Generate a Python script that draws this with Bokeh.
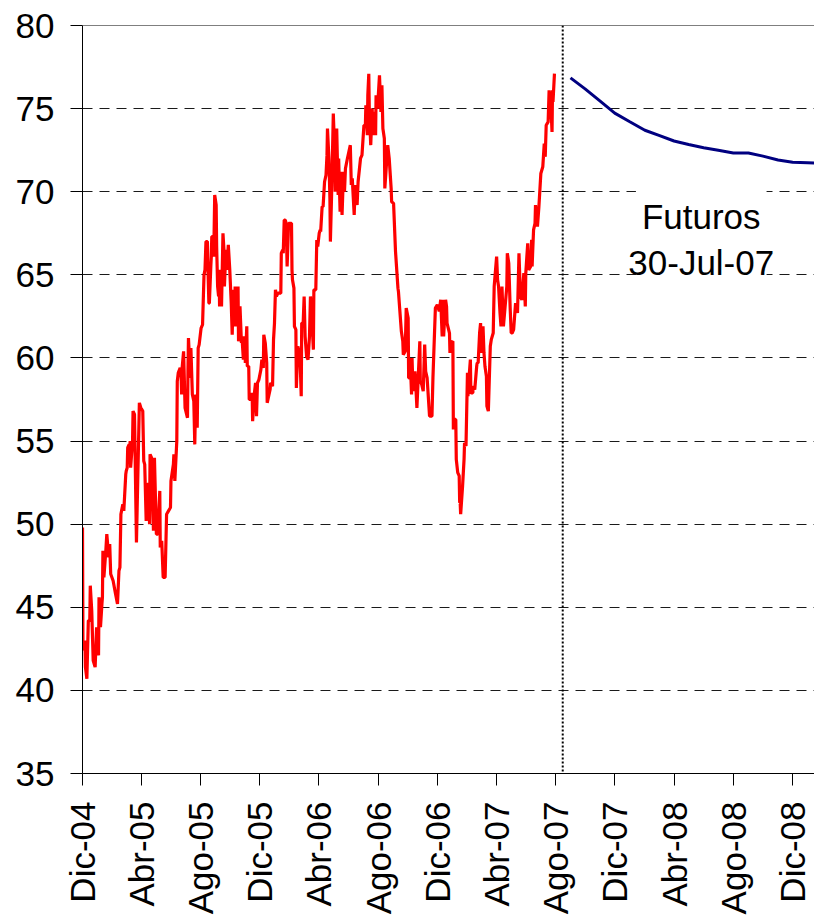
import math
import pandas as pd
from bokeh.plotting import figure
from bokeh.models import FixedTicker, CustomJSTickFormatter, Span, Label, Range1d
from bokeh.embed import file_html
from bokeh.resources import INLINE

# ---- data ----
spot_dates = [
    "2004-12-01", "2004-12-02", "2004-12-06", "2004-12-07", "2004-12-10", "2004-12-13", "2004-12-16",
    "2004-12-17", "2004-12-20", "2004-12-23", "2004-12-27", "2004-12-28", "2004-12-30",
    "2005-01-03", "2005-01-04", "2005-01-07", "2005-01-10", "2005-01-11", "2005-01-12", "2005-01-14",
    "2005-01-18", "2005-01-20", "2005-01-24", "2005-01-26", "2005-01-28", "2005-02-02", "2005-02-07",
    "2005-02-11", "2005-02-14", "2005-02-16", "2005-02-18", "2005-02-22", "2005-02-24", "2005-02-28",
    "2005-03-01", "2005-03-03", "2005-03-04", "2005-03-07", "2005-03-08", "2005-03-09", "2005-03-10",
    "2005-03-14", "2005-03-15", "2005-03-18", "2005-03-22", "2005-03-28", "2005-03-31", "2005-04-04",
    "2005-04-06", "2005-04-08", "2005-04-11", "2005-04-13", "2005-04-15", "2005-04-18", "2005-04-19",
    "2005-04-22", "2005-04-25", "2005-04-26", "2005-04-28", "2005-05-02", "2005-05-05", "2005-05-09",
    "2005-05-10", "2005-05-13", "2005-05-16", "2005-05-20", "2005-05-23", "2005-05-27", "2005-05-31",
    "2005-06-01", "2005-06-06", "2005-06-07", "2005-06-09", "2005-06-13", "2005-06-14", "2005-06-16",
    "2005-06-20", "2005-06-22", "2005-06-23", "2005-06-24", "2005-06-27", "2005-06-30", "2005-07-05",
    "2005-07-06", "2005-07-07", "2005-07-11", "2005-07-12", "2005-07-15", "2005-07-18", "2005-07-20",
    "2005-07-22", "2005-07-25", "2005-07-27", "2005-07-29", "2005-08-02", "2005-08-05", "2005-08-08",
    "2005-08-10", "2005-08-12", "2005-08-15", "2005-08-16", "2005-08-18", "2005-08-19", "2005-08-22",
    "2005-08-23", "2005-08-24", "2005-08-26", "2005-08-28", "2005-08-30", "2005-09-02", "2005-09-03",
    "2005-09-05", "2005-09-07", "2005-09-08", "2005-09-09", "2005-09-12", "2005-09-13", "2005-09-16",
    "2005-09-18", "2005-09-19", "2005-09-22", "2005-09-24", "2005-09-27", "2005-09-30", "2005-10-03",
    "2005-10-05", "2005-10-07", "2005-10-10", "2005-10-11", "2005-10-14", "2005-10-17", "2005-10-18",
    "2005-10-21", "2005-10-24", "2005-10-25", "2005-10-28", "2005-10-31", "2005-11-01", "2005-11-04",
    "2005-11-05", "2005-11-08", "2005-11-09", "2005-11-12", "2005-11-15", "2005-11-16", "2005-11-19",
    "2005-11-22", "2005-11-24", "2005-11-26", "2005-11-29", "2005-12-03", "2005-12-05", "2005-12-08",
    "2005-12-09", "2005-12-12", "2005-12-15", "2005-12-16", "2005-12-19", "2005-12-22", "2005-12-23",
    "2005-12-27", "2005-12-29", "2005-12-31",
    "2006-01-02", "2006-01-04", "2006-01-07", "2006-01-13", "2006-01-14", "2006-01-17", "2006-01-18",
    "2006-01-20", "2006-01-22", "2006-01-24", "2006-01-26", "2006-01-29", "2006-02-01", "2006-02-04",
    "2006-02-05", "2006-02-06", "2006-02-09", "2006-02-10", "2006-02-13", "2006-02-14", "2006-02-17",
    "2006-02-20", "2006-02-21", "2006-02-24", "2006-02-25", "2006-02-28", "2006-03-02", "2006-03-04",
    "2006-03-07", "2006-03-10", "2006-03-13", "2006-03-15", "2006-03-18", "2006-03-21", "2006-03-22",
    "2006-03-26", "2006-03-28", "2006-03-30", "2006-04-02", "2006-04-04", "2006-04-05", "2006-04-08",
    "2006-04-10", "2006-04-13", "2006-04-16", "2006-04-18", "2006-04-19", "2006-04-22", "2006-04-24",
    "2006-04-25", "2006-04-28", "2006-05-01", "2006-05-04", "2006-05-05", "2006-05-08", "2006-05-11",
    "2006-05-12", "2006-05-15", "2006-05-16", "2006-05-19", "2006-05-22", "2006-05-24", "2006-05-26",
    "2006-05-30", "2006-06-02", "2006-06-05", "2006-06-07", "2006-06-09", "2006-06-13", "2006-06-15",
    "2006-06-19", "2006-06-21", "2006-06-26", "2006-06-29", "2006-07-03", "2006-07-06", "2006-07-07",
    "2006-07-10", "2006-07-11", "2006-07-13", "2006-07-14", "2006-07-17", "2006-07-20", "2006-07-21",
    "2006-07-24", "2006-07-27", "2006-07-28", "2006-07-31", "2006-08-04", "2006-08-07", "2006-08-09",
    "2006-08-11", "2006-08-14", "2006-08-15", "2006-08-21", "2006-08-24", "2006-08-28", "2006-08-29",
    "2006-09-02", "2006-09-06", "2006-09-11", "2006-09-12", "2006-09-15", "2006-09-18", "2006-09-21",
    "2006-09-22", "2006-09-26", "2006-09-28", "2006-10-02", "2006-10-03", "2006-10-05", "2006-10-06",
    "2006-10-09", "2006-10-10", "2006-10-12", "2006-10-16", "2006-10-18", "2006-10-20", "2006-10-23",
    "2006-10-26", "2006-10-27", "2006-10-30", "2006-11-02", "2006-11-05", "2006-11-07", "2006-11-10",
    "2006-11-15", "2006-11-20", "2006-11-22", "2006-11-27", "2006-12-01", "2006-12-05", "2006-12-08",
    "2006-12-11", "2006-12-12", "2006-12-14", "2006-12-18", "2006-12-20", "2006-12-21", "2006-12-26",
    "2006-12-27", "2006-12-29",
    "2007-01-02", "2007-01-03", "2007-01-05", "2007-01-08", "2007-01-09", "2007-01-12", "2007-01-15",
    "2007-01-16", "2007-01-17", "2007-01-18", "2007-01-22", "2007-01-25", "2007-01-26", "2007-01-29",
    "2007-02-01", "2007-02-02", "2007-02-05", "2007-02-07", "2007-02-08", "2007-02-12", "2007-02-13",
    "2007-02-16", "2007-02-20", "2007-02-21", "2007-02-23", "2007-02-26", "2007-02-28", "2007-03-01",
    "2007-03-05", "2007-03-07", "2007-03-09", "2007-03-12", "2007-03-13", "2007-03-15", "2007-03-16",
    "2007-03-20", "2007-03-22", "2007-03-26", "2007-03-28", "2007-04-02", "2007-04-04", "2007-04-06",
    "2007-04-09", "2007-04-11", "2007-04-13", "2007-04-16", "2007-04-23", "2007-04-24", "2007-04-27",
    "2007-04-30", "2007-05-02", "2007-05-04", "2007-05-07", "2007-05-10", "2007-05-11", "2007-05-15",
    "2007-05-18", "2007-05-21", "2007-05-24", "2007-05-28", "2007-05-31", "2007-06-01", "2007-06-05",
    "2007-06-07", "2007-06-11", "2007-06-13", "2007-06-14", "2007-06-17", "2007-06-20", "2007-06-21",
    "2007-06-25", "2007-06-28", "2007-07-02", "2007-07-06", "2007-07-09", "2007-07-11", "2007-07-13",
    "2007-07-17", "2007-07-19", "2007-07-23", "2007-07-25", "2007-07-26", "2007-07-27", "2007-07-30",
]
spot_prices = [
    49.8, 42.4, 43.0, 41.4, 40.7, 44.2, 44.2, 46.3, 44.8, 41.8, 41.4, 42.2, 43.8,
    42.1, 45.6, 43.8, 45.2, 45.6, 48.4, 46.8, 48.4, 49.4, 48.0, 48.8, 47.0, 46.6, 45.8,
    45.2, 47.2, 47.4, 50.6, 51.2, 50.8, 53.0, 53.2, 53.4, 54.6, 54.8, 54.2, 55.0, 53.4,
    55.0, 56.8, 56.6, 48.9, 57.3, 57.0, 56.8, 53.8, 53.6, 50.2, 52.4, 52.4, 50.0, 54.2,
    54.0, 50.6, 49.6, 54.0, 49.4, 49.4, 52.0, 48.6, 49.0, 46.8, 46.8, 50.6, 50.8, 51.0,
    52.6, 53.6, 54.2, 52.6, 55.0, 58.6, 59.1, 59.4, 58.8, 57.8, 59.4, 60.4, 57.0, 56.4,
    59.2, 61.2, 58.8, 60.6, 57.8, 57.4, 54.8, 57.8, 55.8, 60.6, 60.8, 61.8, 62.0, 65.0,
    65.3, 67.0, 67.0, 65.5, 63.3, 63.3, 65.5, 66.1, 67.3, 67.3, 66.1, 69.8, 69.2, 66.7,
    64.3, 63.7, 65.3, 63.1, 65.3, 63.1, 67.5, 66.5, 64.3, 66.5, 65.3, 66.8, 65.3, 63.3,
    61.4, 64.1, 61.9, 64.3, 61.9, 64.3, 61.0, 63.1, 60.9, 61.3, 59.9, 61.3, 59.7, 61.9,
    59.5, 59.5, 57.5, 57.5, 57.9, 56.2, 57.7, 58.5, 56.5, 58.5, 58.7, 59.3, 59.9, 59.4,
    61.4, 60.9, 59.7, 57.3, 57.7, 58.1, 58.5, 58.3, 61.1, 62.1,
    64.1, 63.7, 63.9, 63.9, 66.3, 66.5, 66.3, 68.3, 68.3, 68.1, 65.5, 68.1, 68.1, 68.1,
    65.3, 64.7, 64.2, 61.9, 61.7, 58.2, 60.7, 60.3, 60.6, 57.7, 62.1, 62.1, 63.7, 61.3,
    60.1, 59.9, 61.3, 63.7, 62.3, 60.5, 64.1, 64.1, 67.1, 66.7, 67.5, 67.7, 67.6, 69.1,
    69.1, 70.6, 71.0, 72.2, 73.8, 72.0, 69.6, 67.0, 70.4, 74.7, 72.2, 70.0, 73.8, 69.8,
    72.0, 68.8, 71.2, 68.6, 71.2, 70.0, 71.4, 72.0, 72.4, 72.8, 70.4, 70.8, 68.6, 70.4,
    69.2, 70.6, 72.0, 72.2, 74.0, 74.0, 75.2, 73.4, 75.8, 77.1, 75.0, 72.8, 75.0, 73.4,
    74.8, 73.4, 75.8, 75.0, 77.0, 74.8, 76.4, 73.8, 73.2, 70.2, 72.8, 72.0, 70.2, 69.4,
    69.3, 66.4, 64.2, 64.0, 62.8, 61.6, 61.0, 60.2, 60.4, 63.0, 62.4, 58.8, 58.8, 60.0,
    57.8, 60.0, 58.0, 59.2, 58.2, 57.0, 59.0, 61.0, 58.6, 58.4, 58.0, 60.8, 59.2, 58.8,
    56.5, 56.5, 58.8, 63.0, 63.2, 62.8, 63.5, 61.3, 63.5, 61.3, 63.5, 63.1, 62.1, 61.5,
    60.3, 60.9,
    61.0, 55.7, 56.3, 56.3, 53.9, 53.1, 52.9, 51.3, 51.3, 50.6, 52.3, 53.9, 54.9, 54.7,
    59.1, 57.7, 59.1, 59.9, 57.9, 57.9, 58.3, 58.1, 59.5, 59.7, 59.7, 61.5, 62.1, 60.3,
    61.9, 60.3, 59.5, 58.9, 57.1, 56.9, 56.8, 60.7, 61.1, 61.5, 64.3, 66.1, 64.7, 64.3,
    62.7, 61.9, 64.3, 61.9, 64.3, 66.3, 65.7, 62.9, 61.5, 61.5, 61.7, 62.9, 63.3, 62.7,
    66.3, 63.7, 63.5, 65.1, 63.1, 65.1, 66.9, 65.3, 65.5, 67.1, 65.5, 67.7, 68.1, 69.2,
    67.9, 69.1, 71.1, 71.5, 72.9, 72.1, 74.0, 74.2, 76.1, 75.0, 73.6, 76.1, 75.4, 77.1,
]

futures_dates = [
    "2007-09-01", "2007-10-01", "2007-11-01", "2007-12-01", "2008-01-01", "2008-02-01",
    "2008-03-01", "2008-04-01", "2008-05-01", "2008-06-01", "2008-07-01", "2008-08-01",
    "2008-09-01", "2008-10-01", "2008-11-01", "2008-12-01", "2009-01-01", "2009-02-01",
]
futures_prices = [
    76.85, 76.19, 75.45, 74.73, 74.21, 73.70, 73.39, 73.05, 72.84, 72.64, 72.49, 72.33,
    72.33, 72.14, 71.91, 71.77, 71.74, 71.70,
]

tick_dates = [
    "2004-12-01", "2005-04-01", "2005-08-01", "2005-12-01", "2006-04-01", "2006-08-01",
    "2006-12-01", "2007-04-01", "2007-08-01", "2007-12-01", "2008-04-01", "2008-08-01",
    "2008-12-01",
]
tick_labels = [
    "Dic-04", "Abr-05", "Ago-05", "Dic-05", "Abr-06", "Ago-06", "Dic-06", "Abr-07",
    "Ago-07", "Dic-07", "Abr-08", "Ago-08", "Dic-08",
]
y_ticks = [35, 40, 45, 50, 55, 60, 65, 70, 75, 80]
grid_values = [40, 45, 50, 55, 60, 65, 70, 75]

x_start, x_end = "2004-12-01", "2009-01-15"
y_start, y_end = 35, 80
cutoff_date = "2007-08-16"
note_x = "2008-05-27"
note_line1, note_line1_y = "Futuros", 68.5
note_line2, note_line2_y = "30-Jul-07", 65.75


def to_ms(values):
    s = pd.to_datetime(pd.Series(values))
    return [float(v) for v in (s - pd.Timestamp("1970-01-01")) // pd.Timedelta(milliseconds=1)]


FONT = "Liberation Sans"

p = figure(
    frame_width=732, frame_height=748,
    x_axis_type="datetime",
    x_range=Range1d(to_ms([x_start])[0], to_ms([x_end])[0]),
    y_range=Range1d(y_start, y_end),
    output_backend="svg", toolbar_location=None,
    min_border_left=82, min_border_top=25, min_border_right=0, min_border_bottom=0,
)
p.outline_line_color = None
p.background_fill_color = "white"
p.border_fill_color = "white"

# grid
p.xgrid.visible = False
p.ygrid.ticker = FixedTicker(ticks=grid_values)
p.ygrid.grid_line_color = "#1a1a1a"
p.ygrid.grid_line_dash = "10 7"
p.ygrid.grid_line_width = 1

# top border line
p.add_layout(Span(location=y_end, dimension="width", line_color="black", line_width=1))

# y axis
p.yaxis.ticker = FixedTicker(ticks=y_ticks)
p.yaxis.major_tick_out = 12
p.yaxis.major_tick_in = 0
p.yaxis.minor_tick_line_color = None
p.yaxis.major_label_text_font = FONT
p.yaxis.major_label_text_font_size = "35px"
p.yaxis.major_label_text_color = "black"
p.yaxis.major_label_standoff = 16
p.yaxis.axis_line_color = "black"
p.yaxis.major_tick_line_color = "black"

# x axis
tick_ms = to_ms(tick_dates)
p.xaxis.ticker = FixedTicker(ticks=tick_ms)
p.xaxis.formatter = CustomJSTickFormatter(
    args=dict(tick_values=tick_ms, tick_names=tick_labels),
    code="""
    for (let i = 0; i < tick_values.length; i++) {
        if (Math.abs(tick_values[i] - tick) < 1000) { return tick_names[i]; }
    }
    return "";
    """,
)
p.xaxis.major_label_orientation = math.pi / 2
p.xaxis.major_tick_out = 12
p.xaxis.major_tick_in = 0
p.xaxis.minor_tick_line_color = None
p.xaxis.major_label_text_font = FONT
p.xaxis.major_label_text_font_size = "35px"
p.xaxis.major_label_text_color = "black"
p.xaxis.major_label_standoff = 16
p.xaxis.axis_line_color = "black"
p.xaxis.major_tick_line_color = "black"

# annotation (drawn beneath the data lines, above the grid)
nx = to_ms([note_x])[0]
p.add_layout(Label(x=nx, y=note_line1_y, text=note_line1, text_align="center",
                   text_baseline="alphabetic", text_font=FONT, text_font_size="35px",
                   text_color="black", background_fill_color="white",
                   padding=(6, 40), level="underlay"))
p.add_layout(Label(x=nx, y=note_line2_y, text=note_line2, text_align="center",
                   text_baseline="alphabetic", text_font=FONT, text_font_size="35px",
                   text_color="black", level="underlay"))

# series
p.line(pd.to_datetime(spot_dates), spot_prices, line_color="#FF0000", line_width=3.2)
p.line(pd.to_datetime(futures_dates), futures_prices, line_color="#000080", line_width=3)

# cut-off dotted line
p.add_layout(Span(location=to_ms([cutoff_date])[0], dimension="height",
                  line_color="black", line_width=2, line_dash="2 2"))

open("out.html", "w").write(file_html(p, INLINE))
